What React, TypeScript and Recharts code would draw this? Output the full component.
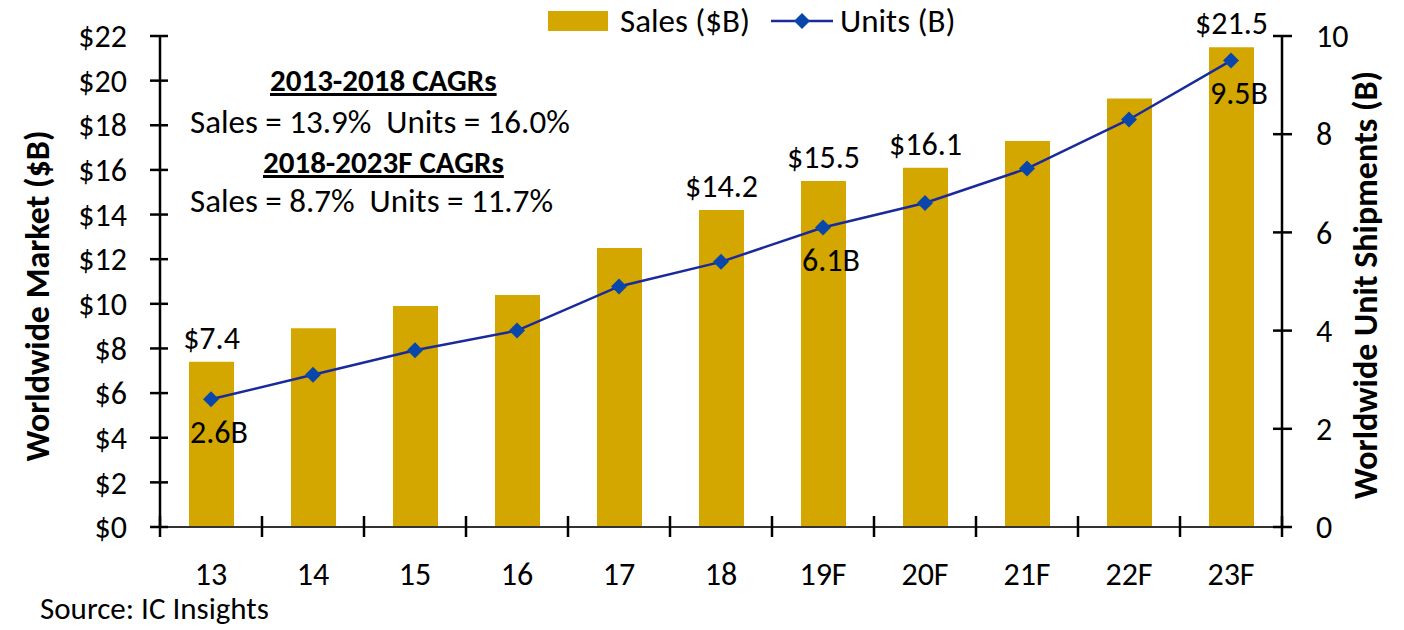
import { ComposedChart, Bar, Line, XAxis, YAxis, Legend, LabelList } from 'recharts';

const years = ['13', '14', '15', '16', '17', '18', '19F', '20F', '21F', '22F', '23F'];
const sales = [7.4, 8.9, 9.9, 10.4, 12.5, 14.2, 15.5, 16.1, 17.3, 19.2, 21.5];
const units = [2.6, 3.1, 3.6, 4.0, 4.9, 5.4, 6.1, 6.6, 7.3, 8.3, 9.5];
const salesLabels = ['$7.4', '', '', '', '', '$14.2', '$15.5', '$16.1', '', '', '$21.5'];
const unitLabels = ['2.6B', '', '', '', '', '', '6.1B', '', '', '', '9.5B'];
const salesTicks = [0, 2, 4, 6, 8, 10, 12, 14, 16, 18, 20, 22];
const unitTicks = [0, 2, 4, 6, 8, 10];

const data = years.map((y, i) => ({
  year: y,
  sales: sales[i],
  units: units[i],
  salesLabel: salesLabels[i],
  unitLabel: unitLabels[i],
}));

const FONT = 'Carlito, Calibri, Lato, sans-serif';
const BAR = '#D4A700';
const LINE = '#1a2a9c';
const DOT = '#0a47aa';
const BAND = 102; // category width in px
const FS = 32;

const LeftTick = (p: any) => {
  const { x, y, payload } = p;
  return (
    <g>
      <line x1={x - 10} x2={x + 8} y1={y} y2={y} stroke="#000" strokeWidth={2.5} />
      <text x={x - 33} y={y} dy="0.35em" textAnchor="end" fontSize={FS} fill="#000" fontFamily={FONT}>
        {`$${payload.value}`}
      </text>
    </g>
  );
};

const RightTick = (p: any) => {
  const { x, y, payload } = p;
  return (
    <g>
      <line x1={x - 9} x2={x + 10} y1={y} y2={y} stroke="#000" strokeWidth={2.5} />
      <text x={x + 34} y={y} dy="0.35em" textAnchor="start" fontSize={FS} fill="#000" fontFamily={FONT}>
        {payload.value}
      </text>
    </g>
  );
};

const BottomTick = (p: any) => {
  const { x, y, payload, index } = p;
  return (
    <g>
      <line x1={x - BAND / 2} x2={x - BAND / 2} y1={y - 11} y2={y + 10} stroke="#000" strokeWidth={2.5} />
      {index === years.length - 1 && (
        <line x1={x + BAND / 2} x2={x + BAND / 2} y1={y - 11} y2={y + 10} stroke="#000" strokeWidth={2.5} />
      )}
      <text x={x} y={y + 47} dy="0.35em" textAnchor="middle" fontSize={FS} fill="#000" fontFamily={FONT}>
        {payload.value}
      </text>
    </g>
  );
};

const Diamond = (p: any) => {
  const { cx, cy, index } = p;
  return (
    <path
      key={`d-${index}`}
      d={`M${cx} ${cy - 8} L${cx + 8} ${cy} L${cx} ${cy + 8} L${cx - 8} ${cy} Z`}
      fill={DOT}
    />
  );
};

const UnitLabel = (p: any) => {
  const { x, y, value } = p;
  if (!value) return null;
  return (
    <text x={x + 8} y={y + 32} dy="0.35em" textAnchor="middle" fontSize={FS} fill="#000" fontFamily={FONT}>
      {value}
    </text>
  );
};

const LegendBox = () => (
  <div style={{ display: 'flex', alignItems: 'center', height: 40, fontFamily: FONT, fontSize: 33, color: '#000' }}>
    <span style={{ display: 'inline-block', width: 60, height: 20, background: BAR, marginRight: 12 }} />
    <span>Sales ($B)</span>
    <svg width={62} height={20} style={{ marginLeft: 21, marginRight: 7 }}>
      <line x1={0} x2={62} y1={10} y2={10} stroke={LINE} strokeWidth={2.5} />
      <path d="M31 2 L39 10 L31 18 L23 10 Z" fill={DOT} />
    </svg>
    <span>Units (B)</span>
  </div>
);

const textStyle: React.CSSProperties = {
  position: 'absolute',
  fontFamily: FONT,
  fontSize: 33,
  color: '#000',
  whiteSpace: 'pre',
  lineHeight: '40px',
};

export default function App() {
  return (
    <div style={{ position: 'relative', width: 1396, height: 620 }}>
      <ComposedChart
        width={1396}
        height={620}
        data={data}
        margin={{ top: 28, right: 0, bottom: 41, left: 0 }}
      >
        <XAxis
          dataKey="year"
          height={60}
          interval={0}
          tickSize={0}
          tickMargin={0}
          tickLine={false}
          axisLine={{ stroke: '#333', strokeWidth: 2 }}
          tick={<BottomTick />}
        />
        <YAxis
          yAxisId="left"
          orientation="left"
          width={152}
          domain={[0, 22]}
          ticks={salesTicks}
          interval={0}
          tickSize={0}
          tickMargin={0}
          tickLine={false}
          axisLine={{ stroke: '#000', strokeWidth: 2.5 }}
          tick={<LeftTick />}
          label={{
            content: () => (
              <text
                transform="translate(29,288) rotate(-90)"
                textAnchor="middle"
                dy="0.35em"
                fontSize={34}
                fontWeight="bold"
                fontFamily={FONT}
                fill="#000"
              >
                Worldwide Market ($B)
              </text>
            ),
          }}
        />
        <YAxis
          yAxisId="right"
          orientation="right"
          width={122}
          domain={[0, 10]}
          ticks={unitTicks}
          interval={0}
          tickSize={0}
          tickMargin={0}
          tickLine={false}
          axisLine={{ stroke: '#000', strokeWidth: 2.5 }}
          tick={<RightTick />}
          label={{
            content: () => (
              <text
                transform="translate(1357,277) rotate(-90)"
                textAnchor="middle"
                dy="0.35em"
                fontSize={34}
                fontWeight="bold"
                fontFamily={FONT}
                fill="#000"
              >
                Worldwide Unit Shipments (B)
              </text>
            ),
          }}
        />
        <Legend
          layout="horizontal"
          verticalAlign="middle"
          align="center"
          wrapperStyle={{ top: -7, left: 540, width: 'auto' }}
          content={<LegendBox />}
        />
        <Bar yAxisId="left" dataKey="sales" fill={BAR} barSize={45} isAnimationActive={false}>
          <LabelList
            dataKey="salesLabel"
            position="top"
            offset={13}
            fontSize={FS}
            fill="#000"
            fontFamily={FONT}
          />
        </Bar>
        <Line
          yAxisId="right"
          dataKey="units"
          stroke={LINE}
          strokeWidth={2.5}
          dot={Diamond}
          activeDot={false}
          isAnimationActive={false}
        >
          <LabelList dataKey="unitLabel" content={<UnitLabel />} />
        </Line>
      </ComposedChart>

      <div style={{ ...textStyle, left: 262, top: 52, fontSize: 31, fontWeight: 'bold', textDecoration: 'underline' }}>
        2013-2018 CAGRs
      </div>
      <div style={{ ...textStyle, left: 182, top: 94 }}>Sales = 13.9%  Units = 16.0%</div>
      <div style={{ ...textStyle, left: 255, top: 134, fontSize: 31, fontWeight: 'bold', textDecoration: 'underline' }}>
        2018-2023F CAGRs
      </div>
      <div style={{ ...textStyle, left: 182, top: 173 }}>Sales = 8.7%  Units = 11.7%</div>
      <div style={{ ...textStyle, left: 32, top: 585, fontSize: 31, lineHeight: '30px' }}>Source: IC Insights</div>
    </div>
  );
}
